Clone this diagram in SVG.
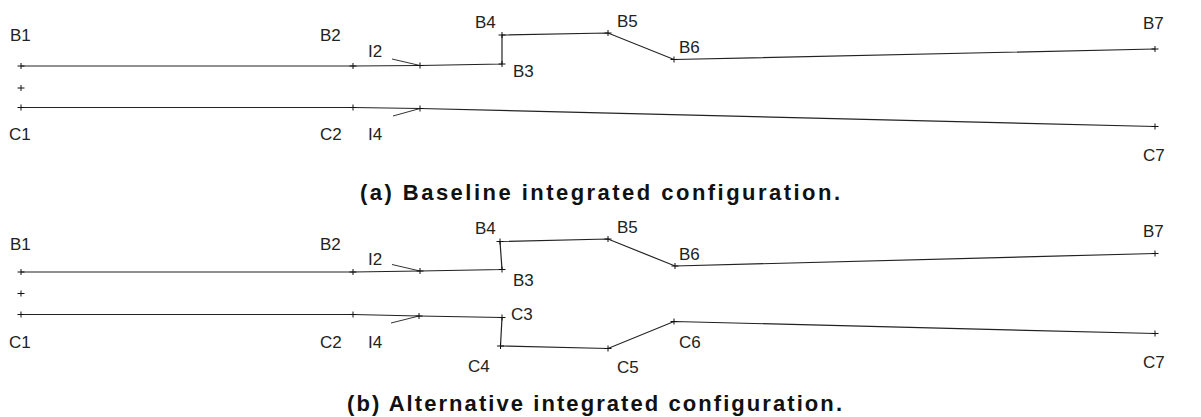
<svg xmlns="http://www.w3.org/2000/svg" width="1201" height="417" viewBox="0 0 1201 417">
<defs>
<style>
.lbl{font-family:"Liberation Sans",Arial,sans-serif;font-size:17px;fill:#222}
.cap{font-family:"Liberation Sans",Arial,sans-serif;font-size:22px;font-weight:bold;fill:#111}
.ln{fill:none;stroke:#222;stroke-width:1.2}
.ldr{fill:none;stroke:#333;stroke-width:1}
.tk{fill:none;stroke:#111;stroke-width:1}
</style>
<path id="tick" d="M-3.5,0H3.5M0,-3V3" class="tk"/>
</defs>
<rect width="1201" height="417" fill="#fff"/>
<g id="connectors">
<polyline class="ln" points="21,66 353,66 420,65.5 502,64 502,35 608,33 674,59.5 1155,49"/>
<polyline class="ln" points="21,107.5 353,107.5 420,108.5 1155,126.5"/>
<line class="ldr" x1="392" y1="59" x2="420" y2="65.5"/>
<line class="ldr" x1="393" y1="116" x2="420" y2="108.5"/>
<polyline class="ln" points="21,272 353,272 420,271 502,269.5 500,241.5 608,239 675,266 1155,253.5"/>
<polyline class="ln" points="21,314.5 353,314.5 419,316 502,317.5 500.5,346 608,348.5 674,321.5 1155,333.5"/>
<line class="ldr" x1="392" y1="264.5" x2="420" y2="271"/>
<line class="ldr" x1="391" y1="323" x2="419" y2="316"/>
</g>
<g id="panel-a">
<g id="a-B1"><use href="#tick" x="21" y="66"/><text class="lbl" x="10" y="41">B1</text></g>
<g id="a-B2"><use href="#tick" x="353" y="66"/><text class="lbl" x="320" y="41">B2</text></g>
<g id="a-I2"><use href="#tick" x="420" y="65.5"/><text class="lbl" x="368" y="57">I2</text></g>
<g id="a-B3"><use href="#tick" x="502" y="64"/><text class="lbl" x="513" y="77">B3</text></g>
<g id="a-B4"><use href="#tick" x="502" y="35"/><text class="lbl" x="475" y="28">B4</text></g>
<g id="a-B5"><use href="#tick" x="608" y="33"/><text class="lbl" x="617" y="27">B5</text></g>
<g id="a-B6"><use href="#tick" x="674" y="59.5"/><text class="lbl" x="679" y="53">B6</text></g>
<g id="a-B7"><use href="#tick" x="1155" y="49"/><text class="lbl" x="1143" y="29">B7</text></g>
<g id="a-dot"><use href="#tick" x="21" y="88"/></g>
<g id="a-C1"><use href="#tick" x="21" y="107.5"/><text class="lbl" x="9" y="140">C1</text></g>
<g id="a-C2"><use href="#tick" x="353" y="107.5"/><text class="lbl" x="320" y="140">C2</text></g>
<g id="a-I4"><use href="#tick" x="420" y="108.5"/><text class="lbl" x="368" y="140">I4</text></g>
<g id="a-C7"><use href="#tick" x="1155" y="126.5"/><text class="lbl" x="1143" y="161">C7</text></g>
<text class="cap" x="360" y="199.5" textLength="480" lengthAdjust="spacing">(a) Baseline integrated configuration.</text>
</g>
<g id="panel-b">
<g id="b-B1"><use href="#tick" x="21" y="272"/><text class="lbl" x="10" y="250">B1</text></g>
<g id="b-B2"><use href="#tick" x="353" y="272"/><text class="lbl" x="320" y="250">B2</text></g>
<g id="b-I2"><use href="#tick" x="420" y="271"/><text class="lbl" x="368" y="265">I2</text></g>
<g id="b-B3"><use href="#tick" x="502" y="269.5"/><text class="lbl" x="513" y="286">B3</text></g>
<g id="b-B4"><use href="#tick" x="500" y="241.5"/><text class="lbl" x="475" y="234">B4</text></g>
<g id="b-B5"><use href="#tick" x="608" y="239"/><text class="lbl" x="617" y="233">B5</text></g>
<g id="b-B6"><use href="#tick" x="675" y="266"/><text class="lbl" x="679" y="260">B6</text></g>
<g id="b-B7"><use href="#tick" x="1155" y="253.5"/><text class="lbl" x="1143" y="237">B7</text></g>
<g id="b-dot"><use href="#tick" x="21" y="293.5"/></g>
<g id="b-C1"><use href="#tick" x="21" y="314.5"/><text class="lbl" x="9" y="348">C1</text></g>
<g id="b-C2"><use href="#tick" x="353" y="314.5"/><text class="lbl" x="320" y="348">C2</text></g>
<g id="b-I4"><use href="#tick" x="419" y="316"/><text class="lbl" x="368" y="348">I4</text></g>
<g id="b-C3"><use href="#tick" x="502" y="317.5"/><text class="lbl" x="511" y="320">C3</text></g>
<g id="b-C4"><use href="#tick" x="500.5" y="346"/><text class="lbl" x="468" y="372">C4</text></g>
<g id="b-C5"><use href="#tick" x="608" y="348.5"/><text class="lbl" x="617" y="373">C5</text></g>
<g id="b-C6"><use href="#tick" x="674" y="321.5"/><text class="lbl" x="679" y="348">C6</text></g>
<g id="b-C7"><use href="#tick" x="1155" y="333.5"/><text class="lbl" x="1143" y="368">C7</text></g>
<text class="cap" x="347" y="410.5" textLength="495" lengthAdjust="spacing">(b) Alternative integrated configuration.</text>
</g>
</svg>
